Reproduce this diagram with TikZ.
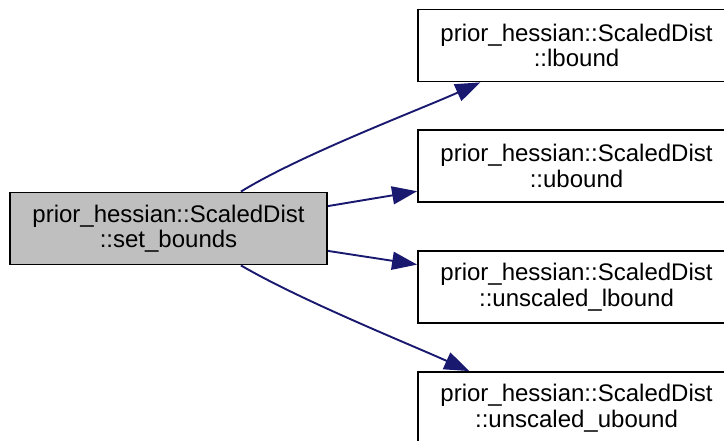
\documentclass[tikz,border=0pt]{standalone}
\usepackage{fontspec}
\setmainfont{Liberation Sans}
\usetikzlibrary{arrows.meta}
\definecolor{edgeblue}{HTML}{191970}
\definecolor{boxgray}{HTML}{BFBFBF}
\tikzset{
  fn/.style={draw=black, line width=1.8pt, rectangle, minimum width=317pt, minimum height=72pt,
    inner sep=0pt, align=center, font=\fontsize{24}{25.5}\selectfont},
  cur/.style={fn, fill=boxgray},
  call/.style={draw=edgeblue, line width=1.9pt, -{Triangle[length=25pt,width=18pt]}}
}
\begin{document}
\begin{tikzpicture}[x=1pt,y=-1pt]
\useasboundingbox (0,0) rectangle (724,441);
\clip (0,0) rectangle (724,441);
\node[cur] (l) at (168.5,228.5) {prior\_hessian::ScaledDist\\::set\_bounds};
\node[fn] (r1) at (576.5,45.5) {prior\_hessian::ScaledDist\\::lbound};
\node[fn] (r2) at (576.5,166) {prior\_hessian::ScaledDist\\::ubound};
\node[fn] (r3) at (576.5,287) {prior\_hessian::ScaledDist\\::unscaled\_lbound};
\node[fn] (r4) at (576.5,408) {prior\_hessian::ScaledDist\\::unscaled\_ubound};
\draw[call] (l.27) .. controls +(60,-37) and +(-60,27) .. (r1.201);
\draw[call] (l.8) -- (r2.189);
\draw[call] (l.-8) -- (r3.172);
\draw[call] (l.-27) .. controls +(60,35) and +(-60,-27) .. (r4.161);
\end{tikzpicture}
\end{document}
